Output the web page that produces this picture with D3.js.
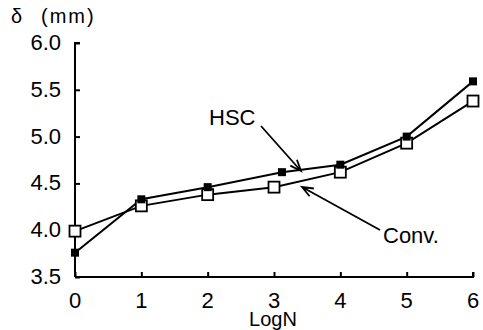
<!DOCTYPE html>
<html>
<head>
<meta charset="utf-8">
<script src="https://cdn.jsdelivr.net/npm/d3@7"></script>
<style>
  body { margin: 0; background: #fff; }
  svg { display: block; font-family: "Liberation Sans", Arial, sans-serif; }
</style>
</head>
<body>
<svg id="chart" width="483" height="330"></svg>
<script>
// ── Data ──
const hscX = [0, 1, 2, 3.12, 4, 5, 6];
const hscY = [3.76, 4.33, 4.46, 4.62, 4.70, 5.00, 5.59];
const convX = [0, 1, 2, 3, 4, 5, 6];
const convY = [3.99, 4.26, 4.38, 4.46, 4.62, 4.93, 5.38];
const xTicks = [0, 1, 2, 3, 4, 5, 6];
const yTicks = [3.5, 4.0, 4.5, 5.0, 5.5, 6.0];

const fs = 22;
const svg = d3.select("#chart");

const x = d3.scaleLinear().domain([0, 6]).range([75, 473]);
const y = d3.scaleLinear().domain([3.5, 6.0]).range([277, 43]);

// ── Axes ──
const yAxis = d3.axisRight(y)
  .tickValues(yTicks)
  .tickSize(5)
  .tickFormat("");
const gy = svg.append("g").attr("transform", `translate(${x(0)},0)`).call(yAxis);
gy.select(".domain").attr("d", `M5,${y(6)}H0V${y(3.5)}`);

const xAxis = d3.axisTop(x)
  .tickValues(xTicks)
  .tickSize(5)
  .tickFormat("");
const gx = svg.append("g").attr("transform", `translate(0,${y(3.5)})`).call(xAxis);
gx.select(".domain").attr("d", `M${x(0)},0H${x(6)}V-5`);

svg.selectAll(".domain, .tick line")
  .attr("stroke", "#000")
  .attr("stroke-width", 2);

// tick labels
svg.append("g").selectAll("text")
  .data(yTicks)
  .join("text")
  .attr("x", 61)
  .attr("y", d => y(d) + 7)
  .attr("text-anchor", "end")
  .attr("font-size", fs)
  .text(d => d.toFixed(1));

svg.append("g").selectAll("text")
  .data(xTicks)
  .join("text")
  .attr("x", d => x(d))
  .attr("y", 308)
  .attr("text-anchor", "middle")
  .attr("font-size", fs)
  .text(d => d);

// axis titles
svg.append("text")
  .attr("x", 273).attr("y", 326)
  .attr("text-anchor", "middle")
  .attr("font-size", 20)
  .text("LogN");

svg.append("text")
  .attr("x", 11).attr("y", 23)
  .attr("font-size", 20)
  .text("δ");
svg.append("text")
  .attr("x", 41).attr("y", 23)
  .attr("font-size", 20)
  .attr("letter-spacing", 2)
  .text("(mm)");

// ── Lines ──
const line = d3.line().x(d => x(d[0])).y(d => y(d[1]));
const hsc = hscX.map((v, i) => [v, hscY[i]]);
const conv = convX.map((v, i) => [v, convY[i]]);

svg.append("path").datum(hsc)
  .attr("d", line).attr("fill", "none")
  .attr("stroke", "#000").attr("stroke-width", 2);
svg.append("path").datum(conv)
  .attr("d", line).attr("fill", "none")
  .attr("stroke", "#000").attr("stroke-width", 2);

// markers
svg.append("g").selectAll("rect")
  .data(conv)
  .join("rect")
  .attr("x", d => x(d[0]) - 5.5)
  .attr("y", d => y(d[1]) - 5.5)
  .attr("width", 11).attr("height", 11)
  .attr("fill", "#fff").attr("stroke", "#000").attr("stroke-width", 1.8);

svg.append("g").selectAll("rect")
  .data(hsc)
  .join("rect")
  .attr("x", d => x(d[0]) - 4)
  .attr("y", d => y(d[1]) - 4)
  .attr("width", 8).attr("height", 8)
  .attr("fill", "#000");

// ── Annotations ──
function arrow(x1, y1, x2, y2) {
  const a = Math.atan2(y2 - y1, x2 - x1);
  const L = 12, w = 0.38;
  svg.append("path")
    .attr("d", `M${x1},${y1}L${x2},${y2}` +
      `M${x2 - L * Math.cos(a - w)},${y2 - L * Math.sin(a - w)}L${x2},${y2}` +
      `L${x2 - L * Math.cos(a + w)},${y2 - L * Math.sin(a + w)}`)
    .attr("fill", "none").attr("stroke", "#000").attr("stroke-width", 1.8);
}

svg.append("text").attr("x", 209).attr("y", 125).attr("font-size", fs).text("HSC");
arrow(261, 126, 301, 171);

svg.append("text").attr("x", 383).attr("y", 243).attr("font-size", fs).text("Conv.");
arrow(380, 230, 302, 187);
</script>
</body>
</html>
